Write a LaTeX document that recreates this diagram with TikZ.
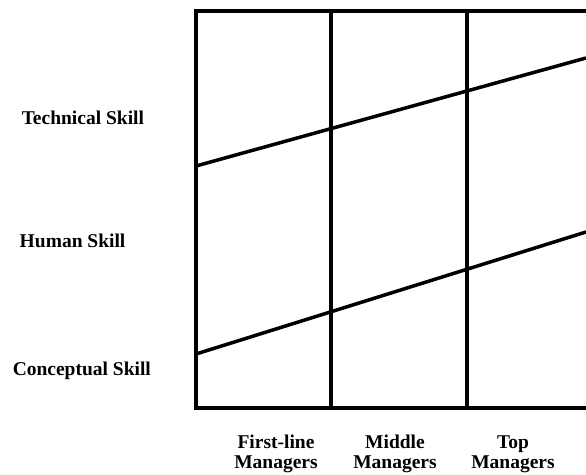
\documentclass[tikz,border=0pt]{standalone}
\usepackage{fontspec}
\setmainfont{Liberation Serif}
\begin{document}
\begin{tikzpicture}[x=1pt,y=-1pt,line width=3.5pt,
  lbl/.style={font=\bfseries\fontsize{19.5}{20}\selectfont,inner sep=0pt},
  mgr/.style={lbl,align=center,anchor=base}]
\useasboundingbox (0,0) rectangle (586,474);
\def\xl{196};
\def\xa{331};
\def\xb{467};
\def\xr{586};
\def\yt{11};
\def\yb{408};
% frame and columns
\coordinate (TL) at (\xl,\yt);
\coordinate (BL) at (\xl,\yb);
\coordinate (TR) at (\xr,\yt);
\coordinate (BR) at (\xr,\yb);
\coordinate (TA) at (\xa,\yt);
\coordinate (BA) at (\xa,\yb);
\coordinate (TB) at (\xb,\yt);
\coordinate (BB) at (\xb,\yb);
\draw (TR) -- (TL) -- (BL) -- (BR);
\draw (TA) -- (BA);
\draw (TB) -- (BB);
% skill boundaries
\coordinate (U0) at (\xl,166);
\coordinate (U1) at (\xr,58);
\coordinate (L0) at (\xl,354);
\coordinate (L1) at (\xr,232);
\draw (U0) -- (U1);
\draw (L0) -- (L1);
% row labels
\node[lbl,anchor=base west] (tech) at (20,124) {Technical Skill};
\node[lbl,anchor=base west] (human) at (18,247) {Human Skill};
\node[lbl,anchor=base west] (concept) at (11,375) {Conceptual Skill};
% column labels
\node[mgr] (first) at (276,468) {First-line\\Managers};
\node[mgr] (middle) at (395,468) {Middle\\Managers};
\node[mgr] (top) at (513,468) {Top\\Managers};
\end{tikzpicture}
\end{document}
